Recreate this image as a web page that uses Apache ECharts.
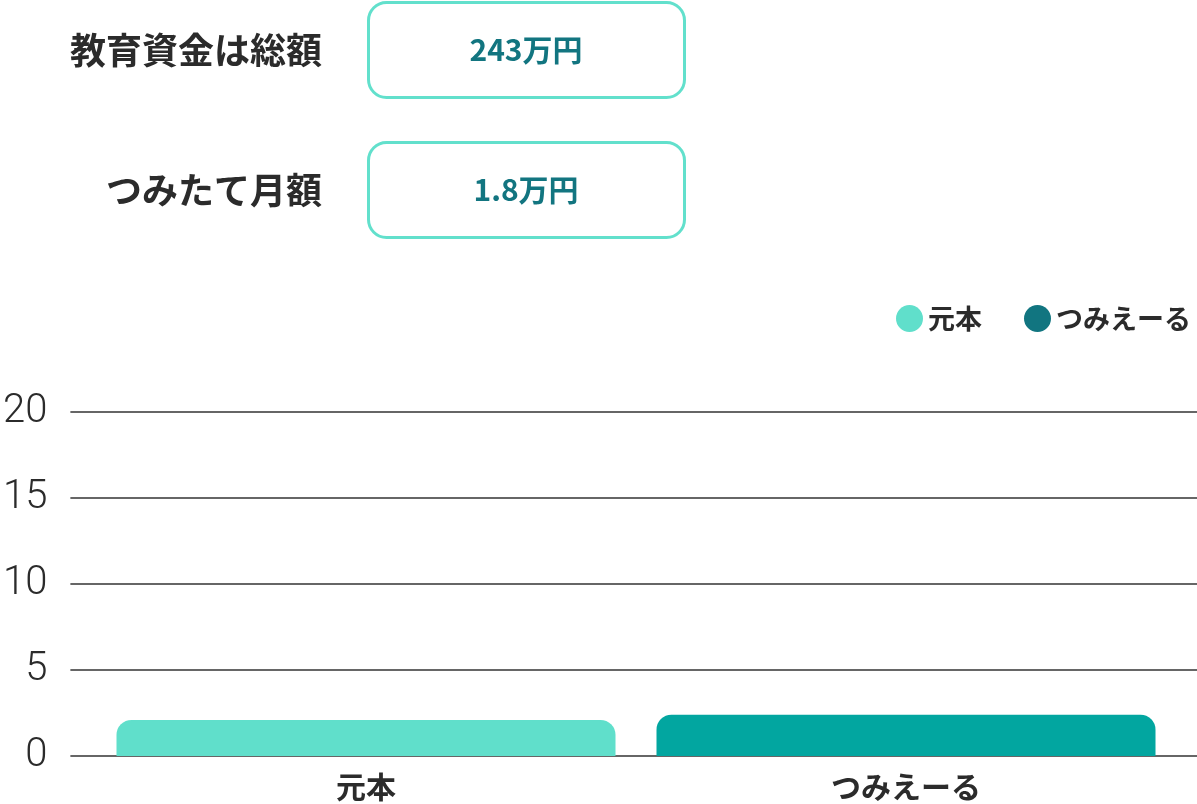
<!DOCTYPE html>
<html lang="ja">
<head>
    <meta charset="utf-8">
    <title>教育資金</title>
    <script src="https://cdn.jsdelivr.net/npm/echarts@6/dist/echarts.min.js"></script>
    <style>
        html, body { margin: 0; padding: 0; background: #fff; }
        #main { width: 1197px; height: 804px; }
    </style>
</head>
<body>
<div id="main"></div>
<script type="text/javascript">
    // summary boxes at the top
    var summaryLabels = ['教育資金は総額', 'つみたて月額'];
    var summaryValues = ['243万円', '1.8万円'];

    // bar chart data
    var categories = ['元本', 'つみえーる'];
    var principalValues = [2.1, '-'];
    var tsumieruValues = ['-', 2.4];
    var yTicks = [0, 5, 10, 15, 20];

    var JP = '"Noto Sans CJK JP", "Noto Sans", sans-serif';
    var myChart = echarts.init(document.getElementById('main'));

    var graphics = [];
    summaryLabels.forEach(function (label, i) {
        var cy = 50 + i * 140;
        graphics.push({
            type: 'text', x: 322, y: cy,
            style: { text: label, fill: '#2b2b2b', font: 'bold 36px ' + JP, align: 'right', verticalAlign: 'middle' }
        });
        graphics.push({
            type: 'rect', shape: { x: 368.5, y: cy - 47.5, width: 316, height: 95, r: 18 },
            style: { fill: '#fff', stroke: '#62e0cc', lineWidth: 3 }
        });
        graphics.push({
            type: 'text', x: 526, y: cy,
            style: { text: summaryValues[i], fill: '#127580', font: 'bold 30px ' + JP, align: 'center', verticalAlign: 'middle' }
        });
    });

    var option = {
        animation: false,
        graphic: graphics,
        legend: {
            left: 896, top: 305, padding: 0,
            icon: 'circle', itemWidth: 27, itemHeight: 27, itemGap: 42,
            textStyle: { fontFamily: JP, fontSize: 27, fontWeight: 'bold', color: '#2b2b2b' },
            data: [
                { name: '元本', itemStyle: { color: '#60dfcb' } },
                { name: 'つみえーる', itemStyle: { color: '#117580' } }
            ]
        },
        grid: [
            { left: 70, right: 0, top: 412, bottom: 48 },
            { left: 96, right: 21, top: 412, bottom: 48 }
        ],
        xAxis: [
            { gridIndex: 0, type: 'category', data: categories, show: false },
            {
                gridIndex: 1, type: 'category', data: categories,
                axisLine: { show: false }, axisTick: { show: false },
                axisLabel: { margin: 16, fontFamily: JP, fontSize: 30, fontWeight: 'bold', color: '#2b2b2b' }
            }
        ],
        yAxis: [
            {
                gridIndex: 0, type: 'value', min: yTicks[0], max: yTicks[yTicks.length - 1], interval: 5,
                axisLine: { show: false }, axisTick: { show: false },
                axisLabel: { margin: 23, fontFamily: 'Roboto', fontWeight: 300, fontSize: 40, color: '#2b2b2b' },
                splitLine: { lineStyle: { color: '#333', width: 1.5 } }
            },
            {
                gridIndex: 1, type: 'value', min: yTicks[0], max: yTicks[yTicks.length - 1], interval: 5,
                show: false, splitLine: { show: false }
            }
        ],
        series: [
            {
                name: '元本', type: 'bar', xAxisIndex: 1, yAxisIndex: 1, stack: 'total',
                barWidth: 499, data: principalValues,
                itemStyle: { color: '#60dfcb', borderRadius: [15, 15, 0, 0] }
            },
            {
                name: 'つみえーる', type: 'bar', xAxisIndex: 1, yAxisIndex: 1, stack: 'total',
                barWidth: 499, data: tsumieruValues,
                itemStyle: { color: '#02a6a0', borderRadius: [15, 15, 0, 0] }
            }
        ]
    };

    myChart.setOption(option);
</script>
</body>
</html>
